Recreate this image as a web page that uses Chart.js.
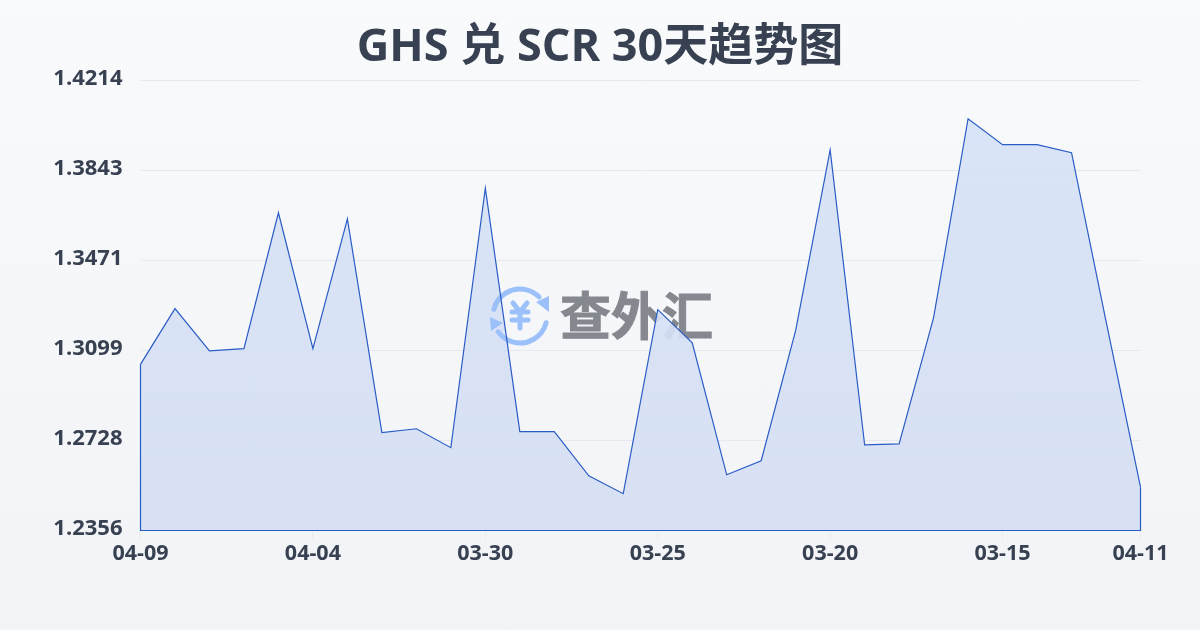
<!DOCTYPE html>
<html>
<head>
<meta charset="utf-8">
<script src="https://cdn.jsdelivr.net/npm/chart.js@4/dist/chart.umd.js"></script>
<style>
    html, body { margin: 0; padding: 0; width: 1200px; height: 630px; overflow: hidden; }
    body { background: linear-gradient(180deg, #f8fafc 0%, #f1f3f6 100%); }
    #wrap { position: relative; width: 1200px; height: 630px; }
</style>
</head>
<body>
<div id="wrap"><canvas id="trendChart" width="1200" height="630"></canvas></div>
<script>
// Data
const dates = ['04-09', '04-08', '04-07', '04-06', '04-05', '04-04', '04-03', '04-02', '04-01', '03-31',
    '03-30', '03-29', '03-28', '03-27', '03-26', '03-25', '03-24', '03-23', '03-22', '03-21',
    '03-20', '03-19', '03-18', '03-17', '03-16', '03-15', '03-14', '03-13', '03-12', '04-11'];
const rates = [1.3042, 1.3272, 1.3098, 1.3107, 1.3668, 1.3107, 1.3643, 1.2760, 1.2776, 1.2698,
    1.3769, 1.2764, 1.2764, 1.2582, 1.2508, 1.3268, 1.3131, 1.2586, 1.2644, 1.3182,
    1.3927, 1.2710, 1.2714, 1.3235, 1.4056, 1.3949, 1.3949, 1.3916, 1.3220, 1.2535];
const yTicks = [1.2356, 1.2728, 1.3099, 1.3471, 1.3843, 1.4214];
const xTickLabels = ['04-09', '04-04', '03-30', '03-25', '03-20', '03-15', '04-11'];
const titleText = 'GHS 兑 SCR 30天趋势图';
const watermarkText = '查外汇';

const fontFamily = '"Open Sans", "Noto Sans CJK SC", sans-serif';
const textColor = '#374151';
const lineColor = '#2a5cc5';

function drawLogo(ctx) {
    const cx = 520, cy = 316;
    ctx.save();
    ctx.strokeStyle = '#9cc0fa';
    ctx.fillStyle = '#9cc0fa';
    ctx.lineWidth = 5;
    ctx.lineCap = 'round';
    ctx.lineJoin = 'round';
    ctx.beginPath();
    ctx.arc(cx, cy, 27, Math.PI * 1.08, Math.PI * 1.75);
    ctx.stroke();
    ctx.beginPath();
    ctx.arc(cx, cy, 27, Math.PI * 0.08, Math.PI * 0.8);
    ctx.stroke();
    ctx.beginPath();
    ctx.moveTo(536, 302); ctx.lineTo(549, 296); ctx.lineTo(549, 312);
    ctx.closePath();
    ctx.fill();
    ctx.beginPath();
    ctx.moveTo(490, 317); ctx.lineTo(503, 323); ctx.lineTo(491, 331);
    ctx.closePath();
    ctx.fill();
    ctx.beginPath();
    ctx.moveTo(513, 303); ctx.lineTo(520, 312); ctx.lineTo(527, 303);
    ctx.moveTo(520, 312); ctx.lineTo(520, 328);
    ctx.moveTo(512, 312); ctx.lineTo(528, 312);
    ctx.moveTo(512, 320); ctx.lineTo(528, 320);
    ctx.stroke();
    ctx.restore();
}

// Watermark text sits under the area fill, the logo on top of it
const watermark = {
    id: 'watermark',
    beforeDatasetsDraw(chart) {
        const ctx = chart.ctx;
        ctx.save();
        ctx.fillStyle = '#85898f';
        ctx.strokeStyle = '#85898f';
        ctx.lineWidth = 1;
        ctx.font = '700 51px "Noto Sans CJK SC"';
        ctx.textAlign = 'left';
        ctx.textBaseline = 'middle';
        ctx.fillText(watermarkText, 560, 316);
        ctx.strokeText(watermarkText, 560, 316);
        ctx.restore();
    },
    afterDatasetDraw(chart, args) {
        if (args.index === 1) drawLogo(chart.ctx);
    }
};

// The series outline is closed down both sides to the axis
const outline = {
    id: 'outline',
    afterDatasetsDraw(chart) {
        const ctx = chart.ctx;
        const x = chart.scales.x;
        const y = chart.scales.y;
        const last = rates.length - 1;
        ctx.save();
        ctx.strokeStyle = lineColor;
        ctx.lineWidth = 1.2;
        ctx.beginPath();
        ctx.moveTo(x.getPixelForValue(0), y.getPixelForValue(rates[0]));
        ctx.lineTo(x.getPixelForValue(0), y.bottom);
        ctx.lineTo(x.getPixelForValue(last), y.bottom);
        ctx.lineTo(x.getPixelForValue(last), y.getPixelForValue(rates[last]));
        ctx.stroke();
        ctx.restore();
    }
};

const chart = new Chart(document.getElementById('trendChart').getContext('2d'), {
    type: 'line',
    data: {
        labels: dates,
        datasets: [{
            // line on top
            data: rates,
            borderColor: lineColor,
            borderWidth: 1.2,
            tension: 0,
            pointRadius: 0,
            fill: false
        }, {
            // area underneath
            data: rates,
            borderWidth: 0,
            borderColor: 'transparent',
            tension: 0,
            pointRadius: 0,
            fill: 'origin',
            backgroundColor: (c) => {
                const area = c.chart.chartArea;
                if (!area) return 'rgba(213, 226, 247, 0.92)';
                const g = c.chart.ctx.createLinearGradient(0, area.top, 0, area.bottom);
                g.addColorStop(0, 'rgba(213, 226, 247, 0.92)');
                g.addColorStop(1, 'rgba(214, 222, 243, 0.92)');
                return g;
            }
        }]
    },
    options: {
        responsive: false,
        animation: false,
        devicePixelRatio: 1,
        layout: { padding: { top: 0, right: 0.5, bottom: 0, left: 0.5 } },
        plugins: {
            legend: { display: false },
            tooltip: { enabled: false },
            title: {
                display: true,
                text: titleText,
                color: textColor,
                font: { family: fontFamily, size: 45, weight: '700', lineHeight: 1.2 },
                padding: { top: 21, bottom: 5.5 }
            }
        },
        scales: {
            x: {
                type: 'category',
                afterBuildTicks(scale) {
                    scale.ticks = scale.ticks.filter(t => xTickLabels.includes(dates[t.value]));
                },
                afterFit(scale) { scale.height = 99.5; },
                border: { display: false },
                grid: { drawOnChartArea: false, drawTicks: true, tickLength: 9, tickColor: '#e8ebef' },
                ticks: {
                    autoSkip: false,
                    maxRotation: 0,
                    minRotation: 0,
                    color: textColor,
                    padding: 1,
                    font: { family: fontFamily, size: 21.5, weight: '700' }
                }
            },
            y: {
                min: yTicks[0],
                max: yTicks[yTicks.length - 1],
                afterBuildTicks(scale) {
                    scale.ticks = yTicks.map(v => ({ value: v }));
                },
                afterFit(scale) { scale.width = 140; },
                border: { display: false },
                grid: { color: '#e5e8ee', lineWidth: 1, drawTicks: false },
                ticks: {
                    color: textColor,
                    padding: 18,
                    font: { family: fontFamily, size: 22, weight: '700', lineHeight: 0.18 },
                    // empty second line lifts the label about 2px above its grid line
                    callback: (v) => [Number(v).toFixed(4), '']
                }
            },
            // empty axis, only keeps the right margin so the title stays centred on the page
            rightMargin: {
                position: 'right',
                afterFit(scale) { scale.width = 59; },
                border: { display: false },
                grid: { display: false, drawTicks: false },
                ticks: { display: false }
            }
        }
    },
    plugins: [watermark, outline]
});
</script>
</body>
</html>
